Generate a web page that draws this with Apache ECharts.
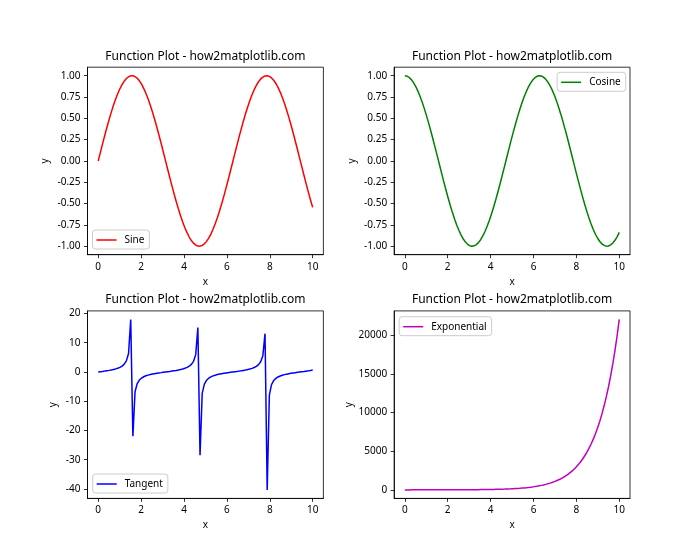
<!DOCTYPE html>
<html>
<head>
<meta charset="utf-8">
<script src="https://cdn.jsdelivr.net/npm/echarts@6/dist/echarts.min.js"></script>
<style>html,body{margin:0;padding:0;background:#fff}#chart{width:700px;height:560px}</style>
</head>
<body>
<div id="chart"></div>
<script>
const xValues = [0,0.1010,0.2020,0.3030,0.4040,0.5051,0.6061,0.7071,0.8081,0.9091,
1.0101,1.1111,1.2121,1.3131,1.4141,1.5152,1.6162,1.7172,1.8182,1.9192,
2.0202,2.1212,2.2222,2.3232,2.4242,2.5253,2.6263,2.7273,2.8283,2.9293,
3.0303,3.1313,3.2323,3.3333,3.4343,3.5354,3.6364,3.7374,3.8384,3.9394,
4.0404,4.1414,4.2424,4.3434,4.4444,4.5455,4.6465,4.7475,4.8485,4.9495,
5.0505,5.1515,5.2525,5.3535,5.4545,5.5556,5.6566,5.7576,5.8586,5.9596,
6.0606,6.1616,6.2626,6.3636,6.4646,6.5657,6.6667,6.7677,6.8687,6.9697,
7.0707,7.1717,7.2727,7.3737,7.4747,7.5758,7.6768,7.7778,7.8788,7.9798,
8.0808,8.1818,8.2828,8.3838,8.4848,8.5859,8.6869,8.7879,8.8889,8.9899,
9.0909,9.1919,9.2929,9.3939,9.4949,9.5960,9.6970,9.7980,9.8990,10];

const sineValues = [0,0.101,0.201,0.298,0.393,0.484,0.570,0.650,0.723,0.789,
0.847,0.896,0.936,0.967,0.988,0.998,0.999,0.989,0.970,0.940,
0.901,0.852,0.795,0.730,0.657,0.578,0.493,0.402,0.308,0.211,
0.111,0.010,-0.091,-0.191,-0.289,-0.384,-0.475,-0.561,-0.642,-0.716,
-0.783,-0.841,-0.892,-0.933,-0.964,-0.986,-0.998,-0.999,-0.991,-0.972,
-0.943,-0.905,-0.858,-0.801,-0.737,-0.665,-0.586,-0.502,-0.412,-0.318,
-0.221,-0.121,-0.021,0.080,0.180,0.279,0.374,0.466,0.553,0.634,
0.709,0.776,0.836,0.887,0.929,0.962,0.984,0.997,0.9997,0.992,
0.974,0.947,0.909,0.863,0.808,0.744,0.673,0.595,0.511,0.421,
0.328,0.231,0.132,0.031,-0.070,-0.170,-0.269,-0.365,-0.457,-0.544];

const cosineValues = [1,0.995,0.980,0.954,0.920,0.875,0.822,0.760,0.691,0.614,
0.532,0.444,0.351,0.255,0.156,0.056,-0.045,-0.146,-0.245,-0.341,
-0.434,-0.523,-0.606,-0.683,-0.754,-0.816,-0.870,-0.916,-0.952,-0.978,
-0.994,-0.9999,-0.996,-0.982,-0.958,-0.924,-0.880,-0.828,-0.767,-0.698,
-0.623,-0.541,-0.453,-0.361,-0.265,-0.166,-0.066,0.035,0.136,0.235,
0.332,0.425,0.514,0.598,0.676,0.747,0.810,0.865,0.911,0.948,
0.975,0.993,0.9998,0.997,0.984,0.960,0.927,0.885,0.834,0.774,
0.706,0.631,0.549,0.462,0.370,0.275,0.176,0.076,-0.025,-0.126,
-0.225,-0.322,-0.416,-0.505,-0.590,-0.668,-0.740,-0.804,-0.860,-0.907,
-0.945,-0.973,-0.991,-0.9995,-0.998,-0.985,-0.963,-0.931,-0.890,-0.839];

const tangentValues = [0,0.10,0.20,0.31,0.43,0.55,0.69,0.85,1.05,1.28,
1.59,2.02,2.67,3.79,6.33,17.96,-22.00,-6.78,-3.96,-2.75,
-2.07,-1.63,-1.31,-1.07,-0.87,-0.71,-0.57,-0.44,-0.32,-0.22,
-0.11,-0.01,0.09,0.19,0.30,0.42,0.54,0.68,0.84,1.03,
1.26,1.56,1.97,2.59,3.64,5.93,15.16,-28.46,-7.30,-4.14,
-2.84,-2.13,-1.67,-1.34,-1.09,-0.89,-0.72,-0.58,-0.45,-0.34,
-0.23,-0.12,-0.02,0.08,0.18,0.29,0.40,0.53,0.66,0.82,
1.00,1.23,1.52,1.92,2.51,3.50,5.58,13.10,-40.31,-7.91,
-4.33,-2.94,-2.19,-1.71,-1.37,-1.11,-0.91,-0.74,-0.59,-0.46,
-0.35,-0.24,-0.13,-0.03,0.07,0.17,0.28,0.39,0.51,0.65];

const expValues = [1,1.1,1.2,1.4,1.5,1.7,1.8,2.0,2.2,2.5,
2.7,3.0,3.4,3.7,4.1,4.6,5.0,5.6,6.2,6.8,
7.5,8.3,9.2,10.2,11.3,12.5,13.8,15.3,16.9,18.7,
20.7,22.9,25.3,28.0,31.0,34.3,38.0,42.0,46.5,51.4,
56.9,62.9,69.6,77.0,85.2,94.2,104,115,128,141,
156,173,191,211,234,259,286,317,350,388,
429,474,525,581,642,710,786,870,962,1064,
1177,1302,1441,1594,1763,1951,2158,2388,2641,2922,
3233,3576,3956,4377,4842,5357,5926,6556,7253,8024,
8876,9820,10863,12018,13295,14709,16272,18001,19915,22026];

const seriesNames = ['Sine', 'Cosine', 'Tangent', 'Exponential'];
const titleText = 'Function Plot - how2matplotlib.com';
const xTicks = [0, 2, 4, 6, 8, 10];
const trigTicks = [-1, -0.75, -0.5, -0.25, 0, 0.25, 0.5, 0.75, 1];
const tanTicks = [-40, -30, -20, -10, 0, 10, 20];
const expTicks = [0, 5000, 10000, 15000, 20000];

const FONT = '"Noto Sans", "DejaVu Sans", sans-serif';
const colors = ['#ff0000', '#008000', '#0000ff', '#bf00bf'];
const valueSets = [sineValues, cosineValues, tangentValues, expValues];
const yRanges = [[-1.0993, 1.0997], [-1.1, 1.1], [-43.22, 20.88], [-1100.3, 23127.8]];
const yTickSets = [trigTicks, trigTicks, tanTicks, expTicks];
const yFormat = [v => v.toFixed(2), v => v.toFixed(2), v => String(v), v => String(v)];
const yNameGap = [37, 37, 29, 40];

const L = [87.5, 394.1], T = [67.2, 310.9], W = 235.9, H = 187.5;
const grids = [], xAxes = [], yAxes = [], titles = [], series = [];
for (let i = 0; i < 4; i++) {
  const left = L[i % 2], top = T[Math.floor(i / 2)];
  grids.push({left: left, top: top, width: W, height: H, show: true,
    borderColor: '#000', borderWidth: 0.8, backgroundColor: 'transparent', containLabel: false});
  const tickStyle = {show: true, inside: false, length: 3.5, lineStyle: {color: '#000', width: 0.8}};
  const labelStyle = {color: '#000', fontSize: 10, fontFamily: FONT, margin: 7};
  xAxes.push({type: 'value', gridIndex: i, min: -0.5, max: 10.5,
    axisLine: {show: true, onZero: false, lineStyle: {color: '#000', width: 0.8}},
    axisTick: Object.assign({customValues: xTicks}, tickStyle),
    axisLabel: Object.assign({customValues: xTicks, formatter: v => String(v)}, labelStyle),
    splitLine: {show: false},
    name: 'x', nameLocation: 'middle', nameGap: 22,
    nameTextStyle: {color: '#000', fontSize: 10, fontFamily: FONT}});
  yAxes.push({type: 'value', gridIndex: i, min: yRanges[i][0], max: yRanges[i][1],
    axisLine: {show: true, onZero: false, lineStyle: {color: '#000', width: 0.8}},
    axisTick: Object.assign({customValues: yTickSets[i]}, tickStyle),
    axisLabel: Object.assign({customValues: yTickSets[i], formatter: yFormat[i]}, labelStyle),
    splitLine: {show: false},
    name: 'y', nameLocation: 'middle', nameGap: yNameGap[i],
    nameTextStyle: {color: '#000', fontSize: 10, fontFamily: FONT}});
  titles.push({text: titleText, left: left + W / 2, top: top - 17, textAlign: 'center', padding: 0,
    textStyle: {color: '#000', fontSize: 12, fontWeight: 'normal', fontFamily: FONT}});
  series.push({type: 'line', name: seriesNames[i], xAxisIndex: i, yAxisIndex: i,
    data: xValues.map((x, k) => [x, valueSets[i][k]]),
    symbol: 'none', smooth: false, silent: true,
    lineStyle: {color: colors[i], width: 1.5}, itemStyle: {color: colors[i]}});
}

const legendBase = {orient: 'vertical', selectedMode: false, icon: 'rect', itemWidth: 20, itemHeight: 1.5,
  padding: [5, 5, 4, 4], borderColor: '#cccccc', borderWidth: 1, borderRadius: 3,
  backgroundColor: 'rgba(255,255,255,0.8)',
  textStyle: {color: '#000', fontSize: 10, fontFamily: FONT, padding: [0, 0, 0, 3]}};
const legends = [
  Object.assign({data: ['Sine'], left: 92.5, top: 230}, legendBase),
  Object.assign({data: ['Cosine'], right: 74.3, top: 72.3}, legendBase),
  Object.assign({data: ['Tangent'], left: 92.7, top: 474}, legendBase),
  Object.assign({data: ['Exponential'], left: 399.2, top: 316.7}, legendBase)
];

const chart = echarts.init(document.getElementById('chart'), null, {renderer: 'canvas'});
chart.setOption({
  animation: false,
  backgroundColor: '#ffffff',
  title: titles,
  grid: grids,
  xAxis: xAxes,
  yAxis: yAxes,
  legend: legends,
  series: series
});
</script>
</body>
</html>
